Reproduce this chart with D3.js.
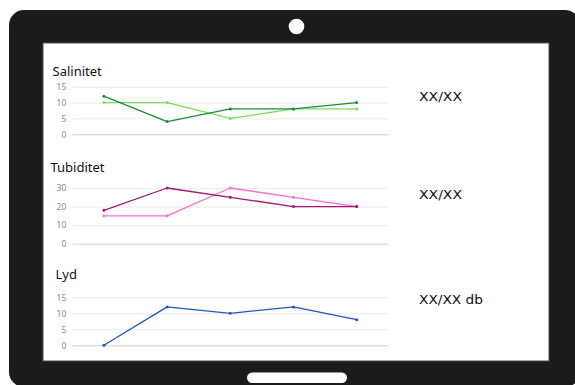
<!DOCTYPE html>
<html>
<head>
<meta charset="utf-8">
<script src="https://cdn.jsdelivr.net/npm/d3@7/dist/d3.min.js"></script>
<style>
  html, body { margin: 0; padding: 0; background: #ffffff; }
  svg { display: block; }
</style>
</head>
<body>
<svg id="chart" width="575" height="385"></svg>
<script>
// Sample periods (no axis labels shown)
const periods = ["P1", "P2", "P3", "P4", "P5"];

// Salinity readings
const salinityA = [12, 4, 8, 8, 10];
const salinityB = [10, 10, 5, 8, 8];
const salinityTicks = [0, 5, 10, 15];

// Turbidity readings
const turbidityA = [18, 30, 25, 20, 20];
const turbidityB = [15, 15, 30, 25, 20];
const turbidityTicks = [0, 10, 20, 30];

// Sound readings
const sound = [0, 12, 10, 12, 8];
const soundTicks = [0, 5, 10, 15];

// Titles and side readouts
const panelTitles = ["Salinitet", "Tubiditet", "Lyd"];
const readouts = ["XX/XX", "XX/XX", "XX/XX db"];

const svg = d3.select("#chart");
const FONT = "'Noto Sans', 'DejaVu Sans', sans-serif";
const READOUT_FONT = "'DejaVu Sans', sans-serif";

// Tablet body
svg.append("rect")
  .attr("x", 9).attr("y", 10)
  .attr("width", 571).attr("height", 377)
  .attr("rx", 15).attr("ry", 15)
  .attr("fill", "#1b1b1b");

// Camera
svg.append("circle")
  .attr("cx", 296.5).attr("cy", 26.5).attr("r", 7.8)
  .attr("fill", "#ffffff");

// Home button
svg.append("rect")
  .attr("x", 247).attr("y", 372.5)
  .attr("width", 100).attr("height", 10.5)
  .attr("rx", 5.2).attr("ry", 5.2)
  .attr("fill", "#ffffff");

// Screen
svg.append("rect")
  .attr("x", 43).attr("y", 43)
  .attr("width", 506).attr("height", 318)
  .attr("fill", "#ffffff")
  .attr("stroke", "#4d4d4d").attr("stroke-width", 1);

const x = d3.scalePoint()
  .domain(periods)
  .range([72.3, 388.3])
  .padding(0.5);

const panels = [
  {
    title: panelTitles[0], titleX: 52.5, titleY: 75.5,
    readout: readouts[0], readoutY: 101, readoutW: 43,
    domain: [0, 15], range: [134.3, 86.7], ticks: salinityTicks,
    series: [
      { values: salinityB, color: "#7fdb5c" },
      { values: salinityA, color: "#1d8b3c" }
    ]
  },
  {
    title: panelTitles[1], titleX: 50.5, titleY: 172.3,
    readout: readouts[1], readoutY: 198.6, readoutW: 43,
    domain: [0, 30], range: [243.7, 188], ticks: turbidityTicks,
    series: [
      { values: turbidityB, color: "#ff6ccf" },
      { values: turbidityA, color: "#a3176f" }
    ]
  },
  {
    title: panelTitles[2], titleX: 55.5, titleY: 279,
    readout: readouts[2], readoutY: 303.6, readoutW: 64,
    domain: [0, 15], range: [345.3, 297.3], ticks: soundTicks,
    series: [
      { values: sound, color: "#1f58bf" }
    ]
  }
];

panels.forEach(p => {
  const y = d3.scaleLinear().domain(p.domain).range(p.range);
  const g = svg.append("g");

  // Horizontal gridlines via axis
  const axis = d3.axisLeft(y)
    .tickValues(p.ticks)
    .tickSize(-(x.range()[1] - x.range()[0]))
    .tickPadding(6)
    .tickFormat(d3.format("d"));

  const ag = g.append("g")
    .attr("transform", `translate(${x.range()[0]},0)`)
    .call(axis);
  ag.select(".domain").remove();
  ag.selectAll(".tick line")
    .attr("stroke", d => d === 0 ? "#cfcfcf" : "#ebebeb")
    .attr("stroke-width", 1);
  ag.selectAll(".tick text")
    .attr("fill", "#8a8a8a")
    .attr("font-family", FONT)
    .attr("font-size", 8.5);

  // Title
  g.append("text")
    .attr("x", p.titleX).attr("y", p.titleY)
    .attr("font-family", FONT)
    .attr("font-size", 13)
    .attr("fill", "#111111")
    .text(p.title);

  // Readout on the right, stretched to its wide letterforms
  g.append("text")
    .attr("x", 419).attr("y", p.readoutY)
    .attr("font-family", READOUT_FONT)
    .attr("font-size", 11.5)
    .attr("textLength", p.readoutW)
    .attr("lengthAdjust", "spacingAndGlyphs")
    .attr("fill", "#111111")
    .text(p.readout);

  const line = d3.line()
    .x((d, i) => x(periods[i]))
    .y(d => y(d));

  p.series.forEach(s => {
    g.append("path")
      .datum(s.values)
      .attr("d", line)
      .attr("fill", "none")
      .attr("stroke", s.color)
      .attr("stroke-width", 1.3)
      .attr("stroke-linejoin", "round");

    g.selectAll(null)
      .data(s.values)
      .enter().append("circle")
      .attr("cx", (d, i) => x(periods[i]))
      .attr("cy", d => y(d))
      .attr("r", 1.5)
      .attr("fill", s.color);
  });
});
</script>
</body>
</html>
